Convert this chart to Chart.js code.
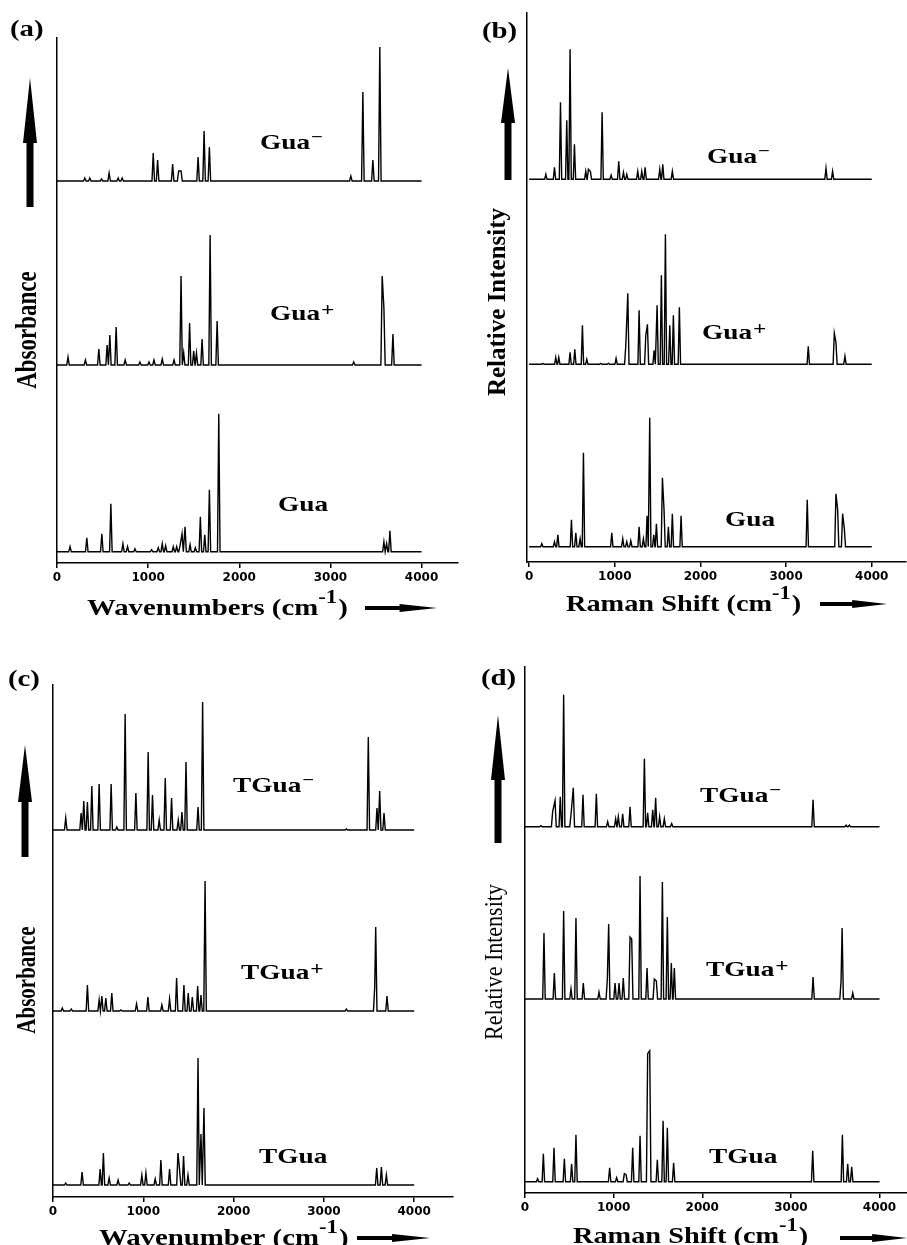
<!DOCTYPE html>
<html>
<head>
<meta charset="utf-8">
<script src="https://cdn.jsdelivr.net/npm/chart.js@4.4.1/dist/chart.umd.min.js"></script>
<style>
  body { margin: 0; background: #fff; }
  #page { position: relative; width: 907px; height: 1245px; overflow: hidden; }
  canvas { position: absolute; }
</style>
</head>
<body>
<div id="page">
  <canvas id="chartA" width="462" height="640" style="left:0;top:0"></canvas>
  <canvas id="chartB" width="445" height="640" style="left:462px;top:0"></canvas>
  <canvas id="chartC" width="462" height="605" style="left:0;top:640px"></canvas>
  <canvas id="chartD" width="445" height="605" style="left:462px;top:640px"></canvas>
</div>
<script>
// tick marks on every x axis
const tickValues = [0, 1000, 2000, 3000, 4000];
const tickLabels = ['0', '1000', '2000', '3000', '4000'];

// (a) IR spectra - peak positions (cm-1) and heights (relative)
const irGuaAnionPos = [305, 360, 488, 572, 671, 715, 1056, 1104, 1269, 1335, 1361, 1548, 1614, 1672, 3224, 3356, 3466, 3542];
const irGuaAnionInt = [3, 3, 2, 8, 3, 3, 28, 21, 17, 10, 10, 24, 50, 34, 5, 89, 21, 134];
const irGuaCationPos = [121, 312, 459, 550, 580, 649, 748, 910, 1009, 1064, 1155, 1284, 1361, 1390, 1455, 1500, 1530, 1592, 1680, 1757, 3256, 3568, 3587, 3686];
const irGuaCationInt = [8, 5, 16, 20, 30, 38, 5, 3, 3, 5, 6, 5, 89, 12, 42, 14, 12, 26, 130, 44, 3, 89, 57, 31];
const irGuaPos = [143, 327, 492, 591, 723, 774, 855, 1038, 1111, 1155, 1192, 1276, 1313, 1350, 1372, 1405, 1460, 1518, 1573, 1621, 1672, 1775, 3587, 3617, 3653];
const irGuaInt = [5, 14, 18, 48, 8, 5, 3, 2, 4, 8, 6, 5, 5, 6, 18, 25, 7, 4, 35, 17, 62, 138, 10, 8, 21];

// (b) Raman spectra
const raGuaAnionPos = [195, 296, 366, 439, 478, 529, 661, 692, 715, 852, 957, 1046, 1101, 1140, 1268, 1315, 1354, 1525, 1560, 1672, 3466, 3543];
const raGuaAnionInt = [5, 12, 77, 59, 130, 35, 8, 10, 8, 67, 4, 18, 7, 5, 8, 8, 12, 10, 15, 8, 11, 8];
const raGuaCationPos = [160, 311, 346, 478, 533, 622, 673, 836, 925, 1015, 1128, 1152, 1284, 1362, 1381, 1459, 1494, 1544, 1591, 1642, 1684, 1754, 3259, 3563, 3582, 3687];
const raGuaCationInt = [1, 7, 7, 12, 15, 39, 5, 1, 1, 6, 18, 71, 54, 29, 40, 14, 59, 89, 130, 39, 49, 57, 18, 31, 22, 8];
const raGuaPos = [148, 296, 335, 494, 545, 595, 634, 965, 1093, 1140, 1187, 1284, 1334, 1377, 1408, 1455, 1486, 1556, 1575, 1626, 1672, 1774, 3247, 3582, 3602, 3660, 3680];
const raGuaInt = [3, 5, 12, 27, 14, 8, 94, 14, 8, 5, 6, 20, 8, 31, 129, 12, 23, 69, 37, 20, 33, 31, 47, 53, 37, 33, 18];

// (c) IR spectra of thioguanine
const irTGuaAnionPos = [141, 311, 341, 381, 430, 511, 644, 707, 799, 918, 1054, 1102, 1176, 1243, 1313, 1387, 1428, 1473, 1606, 1657, 3249, 3492, 3588, 3618, 3666];
const irTGuaAnionInt = [12, 17, 29, 28, 44, 46, 46, 3, 116, 37, 78, 35, 10, 52, 32, 10, 18, 68, 23, 128, 1, 93, 22, 39, 17];
const irTGuaCationPos = [103, 203, 381, 511, 541, 585, 651, 751, 925, 1051, 1206, 1291, 1369, 1450, 1498, 1543, 1602, 1639, 1684, 3249, 3563, 3574, 3699];
const irTGuaCationInt = [3, 2, 26, 11, 15, 13, 18, 1, 7, 14, 6, 12, 33, 26, 18, 14, 25, 16, 130, 2, 24, 84, 15];
const irTGuaPos = [141, 322, 522, 558, 622, 721, 844, 984, 1029, 1132, 1195, 1291, 1384, 1402, 1446, 1495, 1606, 1639, 1672, 3585, 3637, 3692];
const irTGuaInt = [2, 13, 16, 32, 7, 5, 2, 10, 12, 6, 25, 16, 32, 15, 29, 10, 127, 51, 77, 17, 18, 10];

// (d) Raman spectra of thioguanine
const raTGuaAnionPos = [180, 312, 339, 398, 436, 519, 545, 654, 805, 933, 1023, 1053, 1102, 1185, 1347, 1384, 1441, 1474, 1519, 1572, 1655, 3250, 3623, 3660];
const raTGuaAnionInt = [1, 15, 26, 30, 132, 12, 39, 32, 33, 5, 8, 10, 13, 20, 68, 14, 17, 29, 10, 8, 3, 27, 1.5, 1.5];
const raTGuaCationPos = [214, 331, 436, 519, 575, 658, 835, 929, 944, 1016, 1061, 1109, 1185, 1204, 1298, 1377, 1459, 1482, 1550, 1606, 1651, 1685, 3250, 3566, 3578, 3698];
const raTGuaCationInt = [66, 26, 88, 10, 81, 16, 7, 20, 75, 16, 16, 21, 62, 60, 123, 31, 20, 18, 117, 82, 36, 31, 22, 18, 71, 6];
const raTGuaPos = [142, 207, 327, 444, 526, 575, 955, 1034, 1121, 1140, 1215, 1298, 1384, 1407, 1493, 1558, 1606, 1677, 3246, 3581, 3641, 3686];
const raTGuaInt = [3, 28, 34, 23, 18, 47, 14, 4, 8, 7, 34, 46, 128, 131, 22, 61, 54, 19, 31, 47, 18, 15];

const SPEC_END = 4000;   // spectra are plotted 0..4000 cm-1
const HALF_WIDTH = 14;   // half width of a drawn peak, cm-1
const SERIF = '"Liberation Serif", "Times New Roman", serif';

// turn a peak list into line points sitting on a baseline
function buildSpectrum(pos, ints, base) {
    const pts = [{ x: 0, y: base }];
    for (let i = 0; i < pos.length; i++) {
        const closePrev = i > 0 && pos[i] - pos[i - 1] < 2 * HALF_WIDTH;
        const closeNext = i < pos.length - 1 && pos[i + 1] - pos[i] < 2 * HALF_WIDTH;
        if (!closePrev) pts.push({ x: pos[i] - HALF_WIDTH, y: base });
        pts.push({ x: pos[i], y: base + ints[i] });
        if (!closeNext) pts.push({ x: pos[i] + HALF_WIDTH, y: base });
    }
    pts.push({ x: SPEC_END, y: base });
    return pts;
}

// text squeezed/stretched horizontally like the printed figure
function drawText(ctx, text, x, y, font, sx, align) {
    ctx.save();
    ctx.translate(x, y);
    ctx.scale(sx, 1);
    ctx.font = font;
    ctx.textAlign = align || 'left';
    ctx.textBaseline = 'alphabetic';
    ctx.fillStyle = '#000';
    ctx.fillText(text, 0, 0);
    const w = ctx.measureText(text).width * sx;
    ctx.restore();
    return w;
}

function drawSpeciesLabel(ctx, lab) {
    const w = drawText(ctx, lab.main, lab.x, lab.y, 'bold 21px ' + SERIF, 1.3);
    if (lab.sup === '+') {
        drawText(ctx, '+', lab.x + w + 1, lab.y - 4, 'bold 18px ' + SERIF, 1.3);
    } else if (lab.sup) {
        drawText(ctx, lab.sup, lab.x + w + 1, lab.y - 7, 'bold 16px ' + SERIF, 1.3);
    }
}

function drawAxisTitle(ctx, t) {
    let w = drawText(ctx, t.text, t.x, t.y, 'bold 24px ' + SERIF, t.sx);
    w += drawText(ctx, '-1', t.x + w, t.y - 12, 'bold 19px ' + SERIF, t.sx);
    drawText(ctx, ')', t.x + w + 1, t.y, 'bold 24px ' + SERIF, t.sx);
}

function drawYTitle(ctx, t) {
    ctx.save();
    ctx.translate(t.x, t.y);
    ctx.scale(t.sx, 1);
    ctx.rotate(-Math.PI / 2);
    ctx.font = t.font;
    ctx.textAlign = 'center';
    ctx.textBaseline = 'middle';
    ctx.fillStyle = '#000';
    ctx.fillText(t.text, 0, 0);
    ctx.restore();
}

function drawVArrow(ctx, a) {
    ctx.save();
    ctx.fillStyle = '#000';
    ctx.beginPath();
    ctx.moveTo(a.x - 3.5, a.bottom);
    ctx.lineTo(a.x - 3.5, a.base);
    ctx.lineTo(a.x - 7, a.base);
    ctx.lineTo(a.x, a.tip);
    ctx.lineTo(a.x + 7, a.base);
    ctx.lineTo(a.x + 3.5, a.base);
    ctx.lineTo(a.x + 3.5, a.bottom);
    ctx.closePath();
    ctx.fill();
    ctx.restore();
}

function drawHArrow(ctx, a) {
    const xh = a.x1 + (a.x2 - a.x1) * 0.48;
    ctx.save();
    ctx.fillStyle = '#000';
    ctx.beginPath();
    ctx.moveTo(a.x1, a.y - 2);
    ctx.lineTo(xh, a.y - 2);
    ctx.lineTo(xh, a.y - 4);
    ctx.lineTo(a.x2, a.y);
    ctx.lineTo(xh, a.y + 4);
    ctx.lineTo(xh, a.y + 2);
    ctx.lineTo(a.x1, a.y + 2);
    ctx.closePath();
    ctx.fill();
    ctx.restore();
}

const panelDecor = {
    id: 'panelDecor',
    afterDraw(chart, args, opts) {
        const ctx = chart.ctx;
        drawText(ctx, opts.tag.text, opts.tag.x, opts.tag.y, 'bold 24px ' + SERIF, 1.2);
        opts.labels.forEach(l => drawSpeciesLabel(ctx, l));
        drawYTitle(ctx, opts.yTitle);
        drawAxisTitle(ctx, opts.xTitle);
        drawVArrow(ctx, opts.vArrow);
        drawHArrow(ctx, opts.hArrow);
    }
};

function makePanel(canvasId, cfg) {
    const datasets = cfg.spectra.map((s, i) => ({
        label: cfg.decor.labels[i].main + cfg.decor.labels[i].sup,
        data: buildSpectrum(s[0], s[1], cfg.offsets[i]),
        borderColor: '#000',
        borderWidth: 1.4,
        pointRadius: 0,
        tension: 0,
        fill: false
    }));
    new Chart(document.getElementById(canvasId), {
        type: 'line',
        data: { datasets: datasets },
        options: {
            responsive: false,
            animation: false,
            devicePixelRatio: 1,
            layout: { padding: cfg.pad, autoPadding: false },
            plugins: {
                legend: { display: false },
                tooltip: { enabled: false },
                panelDecor: cfg.decor
            },
            scales: {
                x: {
                    type: 'linear',
                    min: cfg.xMin,
                    max: cfg.xMax,
                    afterBuildTicks: s => { s.ticks = tickValues.map(v => ({ value: v })); },
                    afterFit: s => { s.height = 30; },
                    ticks: {
                        autoSkip: false,
                        maxRotation: 0,
                        padding: 3,
                        color: '#000',
                        font: { family: '"DejaVu Sans"', weight: 'bold', size: 12 },
                        callback: v => tickLabels[tickValues.indexOf(v)]
                    },
                    grid: { drawOnChartArea: false, drawTicks: true, tickLength: 5, color: '#000', lineWidth: 1.5 },
                    border: { display: true, color: '#000', width: 1.5 }
                },
                y: {
                    min: 0,
                    max: cfg.yMax,
                    afterFit: s => { s.width = 0; },
                    ticks: { display: false },
                    grid: { drawOnChartArea: false, drawTicks: false },
                    border: { display: true, color: '#000', width: 1.5 }
                }
            }
        },
        plugins: [panelDecor]
    });
}

makePanel('chartA', {
    pad: { left: 57, right: 4, top: 38, bottom: 47 },
    xMin: 0, xMax: 4400, yMax: 525,
    offsets: [382, 198, 11.3],
    spectra: [[irGuaAnionPos, irGuaAnionInt], [irGuaCationPos, irGuaCationInt], [irGuaPos, irGuaInt]],
    decor: {
        tag: { text: '(a)', x: 10, y: 36 },
        labels: [{ main: 'Gua', sup: '\u2212', x: 260, y: 149 }, { main: 'Gua', sup: '+', x: 270, y: 320 }, { main: 'Gua', sup: '', x: 278, y: 511 }],
        yTitle: { text: 'Absorbance', x: 28, y: 330, font: 'bold 23px ' + SERIF, sx: 1.28 },
        xTitle: { text: 'Wavenumbers (cm', x: 87, y: 615, sx: 1.2 },
        hArrow: { x1: 365, x2: 437, y: 608 },
        vArrow: { x: 30, tip: 78, base: 143, bottom: 207 }
    }
});

makePanel('chartB', {
    pad: { left: 65, right: 1, top: 13, bottom: 48 },
    xMin: -25, xMax: 4400, yMax: 549,
    offsets: [382.7, 197.7, 15.3],
    spectra: [[raGuaAnionPos, raGuaAnionInt], [raGuaCationPos, raGuaCationInt], [raGuaPos, raGuaInt]],
    decor: {
        tag: { text: '(b)', x: 20, y: 38 },
        labels: [{ main: 'Gua', sup: '\u2212', x: 245, y: 163 }, { main: 'Gua', sup: '+', x: 240, y: 339 }, { main: 'Gua', sup: '', x: 263, y: 526 }],
        yTitle: { text: 'Relative Intensity', x: 37, y: 302, font: 'bold 25px ' + SERIF, sx: 1.0 },
        xTitle: { text: 'Raman Shift (cm', x: 104, y: 611, sx: 1.18 },
        hArrow: { x1: 358, x2: 425, y: 604 },
        vArrow: { x: 46, tip: 68, base: 123, bottom: 180 }
    }
});

makePanel('chartC', {
    pad: { left: 53, right: 9, top: 45, bottom: 18 },
    xMin: 0, xMax: 4430, yMax: 512,
    offsets: [367, 186, 12],
    spectra: [[irTGuaAnionPos, irTGuaAnionInt], [irTGuaCationPos, irTGuaCationInt], [irTGuaPos, irTGuaInt]],
    decor: {
        tag: { text: '(c)', x: 8, y: 46 },
        labels: [{ main: 'TGua', sup: '\u2212', x: 233, y: 152 }, { main: 'TGua', sup: '+', x: 241, y: 339 }, { main: 'TGua', sup: '', x: 259, y: 523 }],
        yTitle: { text: 'Absorbance', x: 28, y: 340, font: 'bold 21px ' + SERIF, sx: 1.28 },
        xTitle: { text: 'Wavenumber (cm', x: 99, y: 605, sx: 1.2 },
        hArrow: { x1: 357, x2: 430, y: 598 },
        vArrow: { x: 25, tip: 105, base: 162, bottom: 217 }
    }
});

makePanel('chartD', {
    pad: { left: 63, right: 0, top: 27, bottom: 22 },
    xMin: 0, xMax: 4310, yMax: 526,
    offsets: [366.3, 194, 11.3],
    spectra: [[raTGuaAnionPos, raTGuaAnionInt], [raTGuaCationPos, raTGuaCationInt], [raTGuaPos, raTGuaInt]],
    decor: {
        tag: { text: '(d)', x: 19, y: 45 },
        labels: [{ main: 'TGua', sup: '\u2212', x: 238, y: 162 }, { main: 'TGua', sup: '+', x: 244, y: 336 }, { main: 'TGua', sup: '', x: 247, y: 523 }],
        yTitle: { text: 'Relative Intensity', x: 34, y: 322, font: '22px ' + SERIF, sx: 1.1 },
        xTitle: { text: 'Raman Shift (cm', x: 111, y: 603, sx: 1.18 },
        hArrow: { x1: 378, x2: 445, y: 598 },
        vArrow: { x: 36, tip: 75, base: 140, bottom: 203 }
    }
});
</script>
</body>
</html>
